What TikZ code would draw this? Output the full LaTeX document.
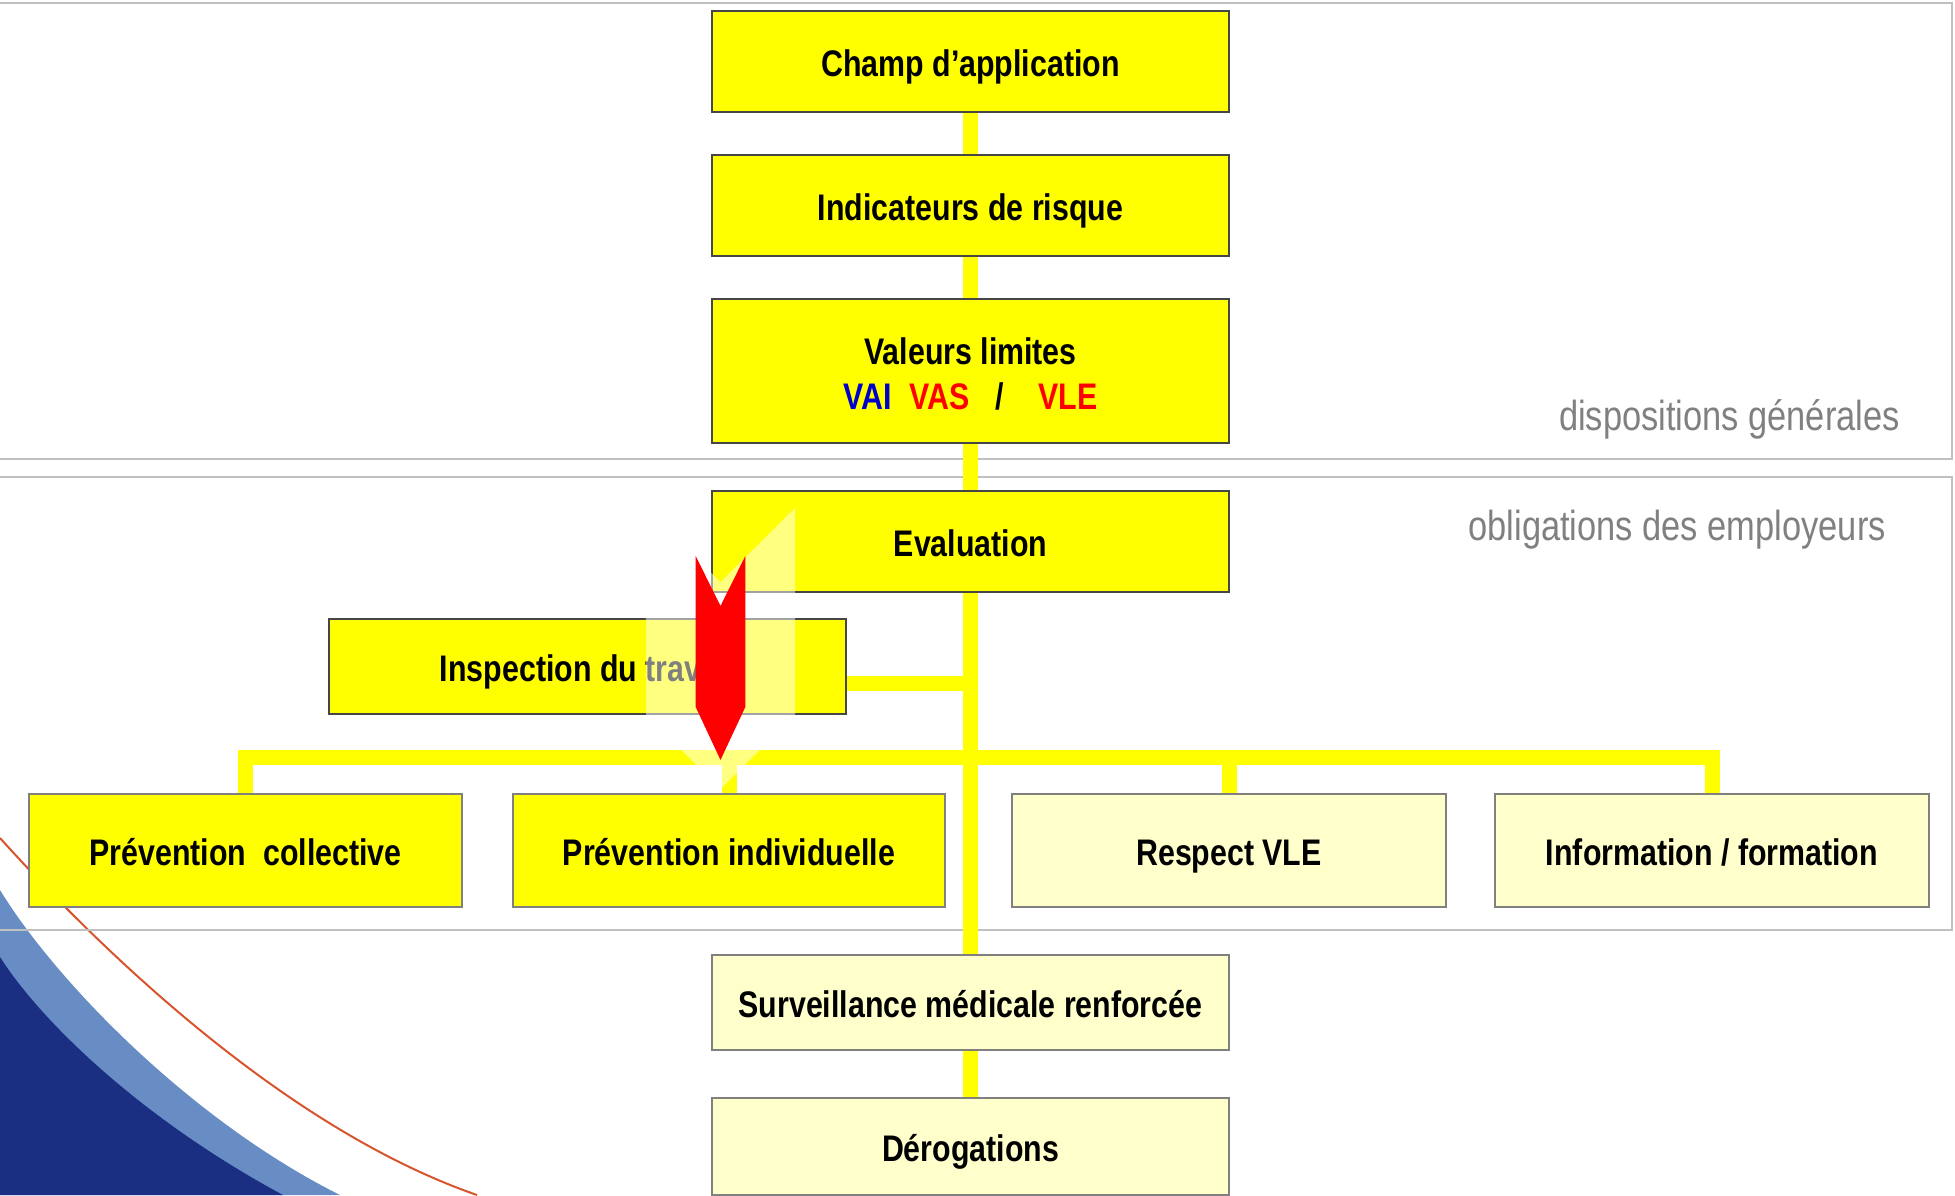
\documentclass[tikz,border=0pt]{standalone}
\usepackage{fontspec}
\setmainfont{Liberation Sans}[FakeStretch=0.82]
\usetikzlibrary{calc}
\definecolor{ylw}{RGB}{255,255,0}
\definecolor{paleylw}{RGB}{255,255,204}
\definecolor{lblue}{RGB}{104,140,196}
\definecolor{dblue}{RGB}{26,46,130}
\definecolor{orng}{RGB}{216,84,44}
\definecolor{panelgray}{RGB}{192,192,192}
\definecolor{labelgray}{RGB}{128,128,128}
\definecolor{vaiblue}{RGB}{0,0,204}
\definecolor{boxedge}{RGB}{70,70,70}
\definecolor{paleedge}{RGB}{128,128,128}
\pgfdeclarelayer{bg}
\pgfsetlayers{bg,main}
\newcommand{\lowerline}[1]{\raisebox{-3pt}[\height][\depth]{#1}}
\begin{document}
\begin{tikzpicture}[x=1pt,y=-1pt,
  boxbase/.style={draw=boxedge, line width=2pt, fill=ylw, inner sep=0pt,
    font=\fontsize{37}{45}\selectfont\bfseries},
  box/.style={boxbase, text height=32pt, text depth=2pt},
  palebox/.style={box, fill=paleylw, draw=paleedge},
  conn/.style={draw=ylw, line width=15pt, line join=miter},
  panel/.style={draw=panelgray, line width=2pt},
  seclabel/.style={text=labelgray, font=\fontsize{42}{48}\selectfont, inner sep=0pt}
]
\useasboundingbox (0,0) rectangle (1955,1195);

% boxes
\node[box, minimum width=517, minimum height=101] (champ) at (970.5,61.5) {Champ d’application};
\node[box, minimum width=517, minimum height=101] (indic) at (970.5,205) {Indicateurs de risque};
\node[boxbase, align=center, minimum width=517, minimum height=144] (valeurs) at (970.5,371)
  {\lowerline{Valeurs limites}\\\lowerline{\textcolor{vaiblue}{VAI}\hspace{18pt}\textcolor{red}{VAS}\hspace{25pt}/\hspace{35pt}\textcolor{red}{VLE}}};
\node[box, minimum width=517, minimum height=101] (eval) at (970.5,541.5) {Evaluation};
\node[box, minimum width=517, minimum height=95] (insp) at (587.5,666.5) {Inspection du travail};
\node[box, draw=paleedge, minimum width=433, minimum height=113] (prevc) at (245.5,850.5) {Prévention~~collective};
\node[box, draw=paleedge, minimum width=432, minimum height=113] (previ) at (729,850.5) {Prévention individuelle};
\node[palebox, minimum width=434, minimum height=113] (respect) at (1229,850.5) {Respect VLE};
\node[palebox, minimum width=434, minimum height=113] (info) at (1712,850.5) {Information / formation};
\node[palebox, minimum width=517, minimum height=95] (surv) at (970.5,1002.5) {Surveillance médicale renforcée};
\node[palebox, minimum width=517, minimum height=97] (derog) at (970.5,1146.5) {Dérogations};

% section labels
\node[seclabel, anchor=base east] (dispo) at (1900,430) {dispositions générales};
\node[seclabel, anchor=base east] (oblig) at (1886,540) {obligations des employeurs};

\begin{pgfonlayer}{bg}
  % decorative swoosh
  \fill[lblue] (0,890) .. controls (55,980) and (190,1120) .. (340,1195) -- (0,1195) -- cycle;
  \fill[dblue] (0,957) .. controls (40,1020) and (140,1118) .. (283,1195) -- (0,1195) -- cycle;
  \draw[orng, line width=2pt] (0,838) .. controls (110,960) and (290,1130) .. (477,1195);
  % panels
  \draw[panel] (-5,3) rectangle (1952,459);
  \draw[panel] (-5,477) rectangle (1952,930);
  % connectors
  \draw[conn] (champ) -- (indic);
  \draw[conn] (indic) -- (valeurs);
  \draw[conn] (valeurs) -- (eval);
  \draw[conn] (eval) -- (surv);
  \draw[conn] (surv) -- (derog);
  \coordinate (busy) at (0,757);
  \coordinate (bus) at (eval.south |- busy);
  \draw[conn] (bus) -| (prevc.north);
  \draw[conn] (bus) -| (previ.north);
  \draw[conn] (bus) -| (respect.north);
  \draw[conn] (bus) -| (info.north);
  \coordinate (ie) at ([yshift=-17pt]insp.east);
  \draw[conn] (ie) -- (ie -| eval.south);
\end{pgfonlayer}

% ghost arrow (semi-transparent white)
\fill[white, fill opacity=0.5] (646,508) -- (720.5,582) -- (795,508) -- (795,715) -- (720.5,789) -- (646,715) -- cycle;
% red arrow
\fill[red] (695.7,556) -- (720.5,606) -- (745.3,556) -- (745.3,707) -- (720.5,760) -- (695.7,707) -- cycle;
\end{tikzpicture}
\end{document}
